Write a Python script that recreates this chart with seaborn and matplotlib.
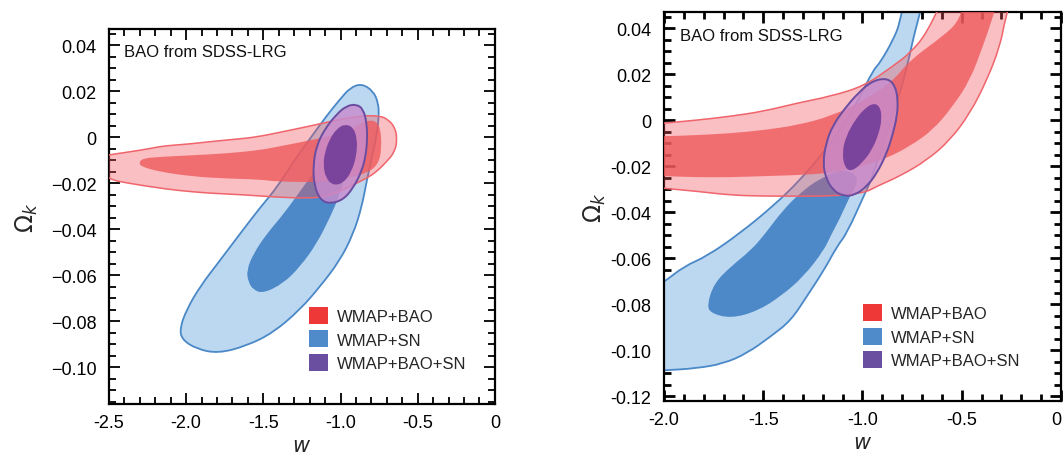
import matplotlib
matplotlib.use("Agg")
import matplotlib.pyplot as plt
import matplotlib.colors as mcolors
from matplotlib.patches import Patch, PathPatch
from matplotlib.path import Path
from matplotlib.ticker import MultipleLocator, FixedLocator, FixedFormatter
import seaborn as sns

# contour outlines, (w, Omega_k)
# left panel
L_SN_95 = [(-0.864, 0.0233), (-0.788, 0.0200), (-0.756, 0.0150), (-0.751, 0.0093), (-0.766, 0.0007),
           (-0.799, -0.0093), (-0.831, -0.0193), (-0.864, -0.0307), (-0.918, -0.0421), (-1.004, -0.0536),
           (-1.133, -0.0650), (-1.263, -0.0750), (-1.436, -0.0850), (-1.608, -0.0907), (-1.792, -0.0940),
           (-1.932, -0.0921), (-2.029, -0.0879), (-2.040, -0.0829), (-1.997, -0.0750), (-1.911, -0.0650),
           (-1.781, -0.0536), (-1.652, -0.0421), (-1.522, -0.0307), (-1.414, -0.0221), (-1.306, -0.0107),
           (-1.198, -0.0007), (-1.090, 0.0093), (-1.004, 0.0164), (-0.939, 0.0214)]
L_SN_68 = [(-1.598, -0.0629), (-1.608, -0.0579), (-1.565, -0.0507), (-1.479, -0.0421), (-1.371, -0.0336),
           (-1.263, -0.0236), (-1.155, -0.0136), (-1.069, -0.0050), (-1.004, -0.0021), (-0.961, -0.0050),
           (-0.961, -0.0136), (-1.004, -0.0250), (-1.069, -0.0350), (-1.155, -0.0464), (-1.263, -0.0564),
           (-1.371, -0.0636), (-1.500, -0.0679), (-1.565, -0.0664)]
L_BAO_95 = [(-2.537, -0.0086), (-2.500, -0.0077), (-2.416, -0.0069), (-2.241, -0.0051), (-2.157, -0.0039),
            (-1.982, -0.0030), (-1.807, -0.0017), (-1.677, -0.0009), (-1.548, 0.0000), (-1.392, 0.0021),
            (-1.205, 0.0047), (-1.047, 0.0071), (-0.874, 0.0093), (-0.745, 0.0093), (-0.691, 0.0076),
            (-0.648, 0.0043), (-0.633, -0.0007), (-0.648, -0.0064), (-0.702, -0.0107), (-0.766, -0.0150),
            (-0.831, -0.0179), (-0.918, -0.0207), (-1.004, -0.0236), (-1.090, -0.0257), (-1.205, -0.0266),
            (-1.418, -0.0261), (-1.639, -0.0250), (-1.852, -0.0244), (-2.066, -0.0231), (-2.196, -0.0219),
            (-2.370, -0.0201), (-2.500, -0.0184), (-2.558, -0.0136)]
L_BAO_68 = [(-2.306, -0.0114), (-2.286, -0.0093), (-2.176, -0.0086), (-1.962, -0.0079), (-1.742, -0.0071),
            (-1.528, -0.0057), (-1.418, -0.0043), (-1.250, -0.0021), (-1.047, 0.0007), (-0.918, 0.0036),
            (-0.831, 0.0076), (-0.745, 0.0064), (-0.732, -0.0050), (-0.758, -0.0121), (-0.831, -0.0157),
            (-0.961, -0.0179), (-1.090, -0.0193), (-1.205, -0.0196), (-1.418, -0.0193), (-1.528, -0.0184),
            (-1.742, -0.0180), (-1.962, -0.0171), (-2.176, -0.0150), (-2.286, -0.0129)]
L_ALL_95 = [(-0.896, 0.0143), (-0.853, 0.0121), (-0.831, 0.0064), (-0.827, -0.0007), (-0.836, -0.0079),
            (-0.864, -0.0150), (-0.918, -0.0221), (-0.982, -0.0272), (-1.069, -0.0290), (-1.133, -0.0272),
            (-1.172, -0.0207), (-1.177, -0.0121), (-1.155, -0.0036), (-1.101, 0.0036), (-1.025, 0.0100),
            (-0.961, 0.0136)]
L_ALL_68 = [(-0.972, 0.0057), (-0.918, 0.0043), (-0.892, -0.0007), (-0.896, -0.0079), (-0.928, -0.0150),
            (-0.982, -0.0200), (-1.047, -0.0210), (-1.095, -0.0179), (-1.112, -0.0121), (-1.101, -0.0064),
            (-1.069, -0.0007), (-1.025, 0.0036)]

# right panel
R_SN_95 = [(-0.786, 0.0552), (-0.811, 0.0422), (-0.846, 0.0348), (-0.912, 0.0248), (-0.947, 0.0217),
           (-1.028, 0.0074), (-1.113, -0.0043), (-1.199, -0.0143), (-1.315, -0.0261), (-1.451, -0.0374),
           (-1.617, -0.0491), (-1.783, -0.0591), (-1.899, -0.0635), (-2.000, -0.0704), (-2.171, -0.0796),
           (-2.222, -0.0970), (-2.121, -0.1091), (-2.000, -0.1087), (-1.834, -0.1078), (-1.698, -0.1057),
           (-1.582, -0.1013), (-1.461, -0.0939), (-1.360, -0.0870), (-1.280, -0.0765), (-1.194, -0.0652),
           (-1.128, -0.0548), (-1.078, -0.0491), (-0.987, -0.0317), (-0.952, -0.0252), (-0.887, -0.0078),
           (-0.811, 0.0117), (-0.771, 0.0248), (-0.746, 0.0348), (-0.720, 0.0435), (-0.685, 0.0552)]
R_SN_68 = [(-1.783, -0.0804), (-1.748, -0.0709), (-1.662, -0.0635), (-1.562, -0.0565), (-1.496, -0.0500),
           (-1.401, -0.0391), (-1.315, -0.0317), (-1.214, -0.0252), (-1.088, -0.0209), (-1.013, -0.0252),
           (-1.063, -0.0330), (-1.113, -0.0426), (-1.159, -0.0500), (-1.194, -0.0565), (-1.295, -0.0678),
           (-1.411, -0.0765), (-1.531, -0.0830), (-1.662, -0.0861), (-1.763, -0.0839)]
R_BAO_95 = [(-2.121, -0.0022), (-2.000, -0.0013), (-1.834, 0.0000), (-1.662, 0.0017), (-1.496, 0.0039),
            (-1.330, 0.0074), (-1.159, 0.0104), (-0.992, 0.0148), (-0.846, 0.0235), (-0.761, 0.0291),
            (-0.675, 0.0378), (-0.559, 0.0596), (-0.232, 0.0596), (-0.282, 0.0435), (-0.307, 0.0322),
            (-0.373, 0.0174), (-0.458, 0.0030), (-0.559, -0.0087), (-0.675, -0.0174), (-0.811, -0.0243),
            (-0.927, -0.0287), (-0.992, -0.0317), (-1.159, -0.0330), (-1.330, -0.0330), (-1.496, -0.0330),
            (-1.662, -0.0326), (-1.834, -0.0309), (-2.000, -0.0296), (-2.121, -0.0287)]
R_BAO_68 = [(-2.121, -0.0070), (-2.000, -0.0070), (-1.834, -0.0065), (-1.662, -0.0057), (-1.496, -0.0043),
            (-1.330, -0.0022), (-1.159, 0.0017), (-0.987, 0.0087), (-0.846, 0.0170), (-0.761, 0.0261),
            (-0.594, 0.0365), (-0.509, 0.0435), (-0.484, 0.0552), (-0.307, 0.0552), (-0.348, 0.0435),
            (-0.393, 0.0322), (-0.458, 0.0174), (-0.544, 0.0061), (-0.645, -0.0043), (-0.761, -0.0113),
            (-0.877, -0.0165), (-1.013, -0.0204), (-1.164, -0.0230), (-1.330, -0.0239), (-1.496, -0.0243),
            (-1.662, -0.0248), (-1.834, -0.0248), (-2.000, -0.0243), (-2.121, -0.0239)]
R_ALL_95 = [(-0.877, 0.0183), (-0.836, 0.0152), (-0.821, 0.0087), (-0.826, 0.0017), (-0.846, -0.0057),
            (-0.877, -0.0143), (-0.927, -0.0230), (-0.977, -0.0287), (-1.038, -0.0326), (-1.098, -0.0330),
            (-1.149, -0.0304), (-1.184, -0.0252), (-1.199, -0.0187), (-1.184, -0.0100), (-1.149, -0.0022),
            (-1.088, 0.0052), (-1.023, 0.0117), (-0.952, 0.0170)]
R_ALL_68 = [(-0.947, 0.0074), (-0.912, 0.0061), (-0.902, 0.0009), (-0.917, -0.0057), (-0.952, -0.0130),
            (-1.003, -0.0187), (-1.053, -0.0222), (-1.088, -0.0209), (-1.103, -0.0143), (-1.083, -0.0070),
            (-1.038, 0.0000), (-0.992, 0.0048)]

labels = ['WMAP+BAO', 'WMAP+SN', 'WMAP+BAO+SN']
legend_colors = ['#ee3838', '#4f8acb', '#6a4fa0']

left_xticks = [-2.5, -2.0, -1.5, -1.0, -0.5, 0]
left_xlabels = ['-2.5', '-2.0', '-1.5', '-1.0', '-0.5', '0']
left_yticks = [0.04, 0.02, 0, -0.02, -0.04, -0.06, -0.08, -0.10]
left_ylabels = ['0.04', '0.02', '0', '\u22120.02', '\u22120.04', '\u22120.06', '\u22120.08', '\u22120.10']
right_xticks = [-2.0, -1.5, -1.0, -0.5, 0]
right_xlabels = ['-2.0', '-1.5', '-1.0', '-0.5', '0']
right_yticks = [0.04, 0.02, 0, -0.02, -0.04, -0.06, -0.08, -0.10, -0.12]
right_ylabels = ['0.04', '0.02', '0', '-0.02', '-0.04', '-0.06', '-0.08', '-0.10', '-0.12']

sns.set_theme(style="ticks")
plt.rcParams['font.family'] = ['Liberation Sans', 'DejaVu Sans']
plt.rcParams['mathtext.fontset'] = 'dejavusans'


def fill(ax, pts, face, alpha, edge=None, lw=0.0, z=1):
    # closed quadratic-bezier outline, the read points act as control points
    n = len(pts)
    mids = [((pts[i][0] + pts[(i + 1) % n][0]) / 2, (pts[i][1] + pts[(i + 1) % n][1]) / 2)
            for i in range(n)]
    verts = [mids[-1]]
    codes = [Path.MOVETO]
    for i in range(n):
        verts += [pts[i], mids[i]]
        codes += [Path.CURVE3, Path.CURVE3]
    patch = PathPatch(Path(verts, codes), facecolor=mcolors.to_rgba(face, alpha),
                      edgecolor=edge if edge else 'none', linewidth=lw, zorder=z,
                      joinstyle='round')
    ax.add_patch(patch)


def panel(ax, sn95, sn68, bao95, bao68, all95, all68, xlim, ylim,
          xt, xl, yt, yl, leg_xy, tickw, ylpad):
    fill(ax, sn95, '#bcd8f0', 1.0, '#4a88c8', 1.3, 1)
    fill(ax, sn68, '#4d89c9', 1.0, None, 0, 2)
    fill(ax, bao95, '#f0505a', 0.36, '#f0646c', 1.1, 3)
    fill(ax, bao68, '#f05a5c', 0.8, None, 0, 4)
    fill(ax, all95, '#c88ccd', 0.82, '#6a4ca0', 1.4, 5)
    fill(ax, all68, '#7b449c', 1.0, None, 0, 6)

    ax.set_xlim(*xlim)
    ax.set_ylim(*ylim)
    ax.xaxis.set_major_locator(FixedLocator(xt))
    ax.xaxis.set_major_formatter(FixedFormatter(xl))
    ax.yaxis.set_major_locator(FixedLocator(yt))
    ax.yaxis.set_major_formatter(FixedFormatter(yl))
    ax.xaxis.set_minor_locator(MultipleLocator(0.1))
    ax.yaxis.set_minor_locator(MultipleLocator(0.005))
    ax.tick_params(which='both', direction='in', top=True, right=True,
                   width=tickw, colors='black', labelsize=13)
    ax.tick_params(which='major', length=8)
    ax.tick_params(which='minor', length=5)
    ax.tick_params(axis='x', which='major', pad=7)
    ax.tick_params(axis='y', which='major', pad=9)
    for s in ax.spines.values():
        s.set_linewidth(1.6)
        s.set_color('black')

    ax.set_xlabel(r'$w$', fontsize=15, labelpad=4)
    ax.set_ylabel(r'$\Omega_k$', fontsize=17, labelpad=ylpad)
    ax.text(0.04, 0.94, 'BAO from SDSS-LRG', transform=ax.transAxes,
            fontsize=12, va='center', ha='left', color='#111111')

    handles = [Patch(facecolor=c, edgecolor='none') for c in legend_colors]
    ax.legend(handles, labels, loc='upper left', bbox_to_anchor=leg_xy,
              frameon=False, fontsize=12, handlelength=1.15, handleheight=1.2,
              handletextpad=0.55, labelspacing=0.38, borderpad=0, borderaxespad=0)


fig = plt.figure(figsize=(10.63, 4.6), dpi=100)
ax1 = fig.add_axes([0.1025, 0.1196, 0.3631, 0.8152])
ax2 = fig.add_axes([0.6246, 0.1261, 0.3735, 0.8457])

panel(ax1, L_SN_95, L_SN_68, L_BAO_95, L_BAO_68, L_ALL_95, L_ALL_68,
      (-2.5, 0), (-0.116, 0.047), left_xticks, left_xlabels,
      left_yticks, left_ylabels, (0.518, 0.259), 1.3, 8)
panel(ax2, R_SN_95, R_SN_68, R_BAO_95, R_BAO_68, R_ALL_95, R_ALL_68,
      (-2.0, 0), (-0.122, 0.047), right_xticks, right_xlabels,
      right_yticks, right_ylabels, (0.501, 0.249), 2.0, 2)

# the last x label of the right panel sits at the figure edge; keep it inside
ax2.get_xticklabels()[-1].set_horizontalalignment('right')

fig.savefig('out.png', dpi=100)
